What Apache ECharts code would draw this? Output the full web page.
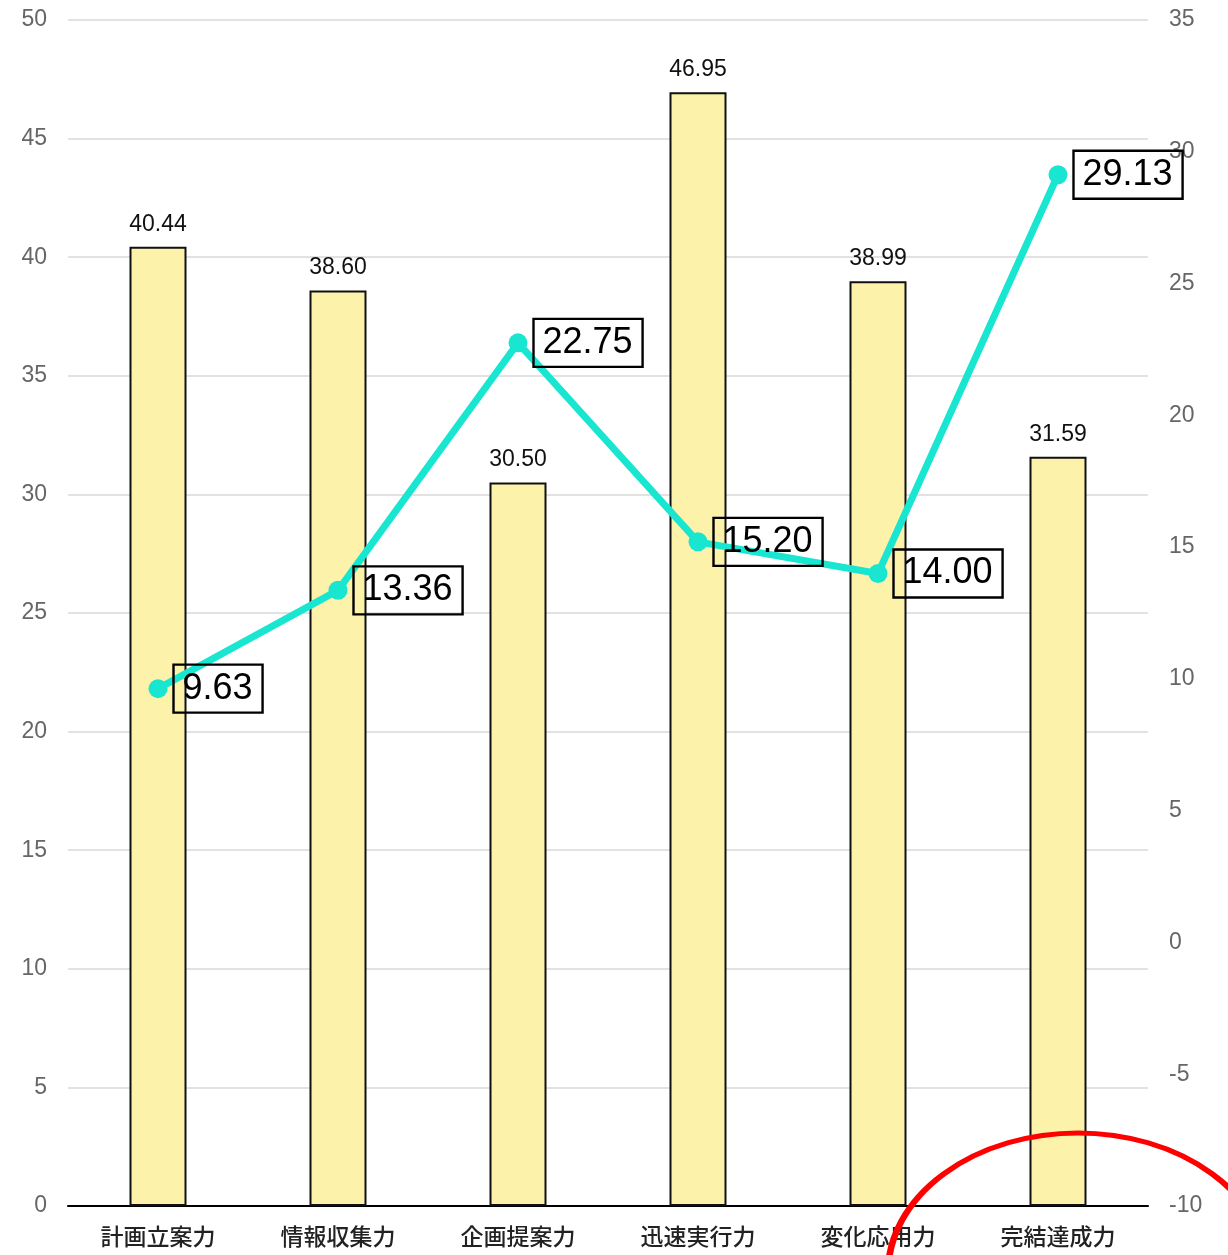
<!DOCTYPE html>
<html>
<head>
<meta charset="utf-8">
<script src="https://cdn.jsdelivr.net/npm/echarts@6/dist/echarts.min.js"></script>
<style>html,body{margin:0;padding:0;background:#fff}#c{width:1228px;height:1255px}</style>
</head>
<body>
<div id="c"></div>
<script>
var categories = ['計画立案力','情報収集力','企画提案力','迅速実行力','変化応用力','完結達成力'];
var barValues = [40.44, 38.60, 30.50, 46.95, 38.99, 31.59];
var lineValues = [9.63, 13.36, 22.75, 15.20, 14.00, 29.13];
var leftAxisRange = [0, 50, 5];
var rightAxisRange = [-10, 35, 5];

var chart = echarts.init(document.getElementById('c'));
chart.setOption({
  animation: false,
  textStyle: { fontFamily: 'Liberation Sans, Arial, sans-serif' },
  grid: { left: 68, right: 80, top: 20, bottom: 49, containLabel: false },
  xAxis: {
    type: 'category',
    data: categories,
    axisLine: { lineStyle: { color: '#000', width: 2 } },
    axisTick: { show: false },
    axisLabel: { color: '#222', fontSize: 23, margin: 19, fontWeight: 500, fontFamily: 'Noto Sans CJK JP, sans-serif' }
  },
  yAxis: [
    {
      type: 'value', min: leftAxisRange[0], max: leftAxisRange[1], interval: leftAxisRange[2],
      axisLine: { show: false }, axisTick: { show: false },
      axisLabel: { color: '#666', fontSize: 23, margin: 21 },
      splitLine: { lineStyle: { color: '#d9d9d9', width: 1.5 } }
    },
    {
      type: 'value', min: rightAxisRange[0], max: rightAxisRange[1], interval: rightAxisRange[2],
      axisLine: { show: false }, axisTick: { show: false },
      axisLabel: { color: '#666', fontSize: 23, margin: 21 },
      splitLine: { show: false }
    }
  ],
  series: [
    {
      type: 'bar',
      data: barValues,
      barWidth: 57,
      itemStyle: { color: '#FDF2AA', borderColor: '#111', borderWidth: 2 },
      label: {
        show: true, position: 'top', distance: 11, color: '#111', fontSize: 23,
        formatter: function (p) { return p.value.toFixed(2); }
      }
    },
    {
      type: 'line',
      yAxisIndex: 1,
      data: lineValues,
      symbol: 'circle', symbolSize: 19,
      lineStyle: { color: '#19E6D0', width: 7 },
      itemStyle: { color: '#19E6D0' },
      label: {
        show: true, position: 'right', distance: 6, color: '#000', fontSize: 36,
        lineHeight: 40, padding: [4, 10, 4, 9],
        borderColor: '#000', borderWidth: 1.2, backgroundColor: 'transparent',
        formatter: function (p) { return p.value.toFixed(2); }
      },
      z: 3
    }
  ],
  graphic: [
    {
      type: 'circle',
      shape: { cx: 0, cy: 0, r: 100 },
      x: 1078, y: 1273, scaleX: 1.9, scaleY: 1.4,
      style: { fill: 'none', stroke: '#FF0000', lineWidth: 3.5 },
      z: 100, silent: true
    }
  ]
});
</script>
</body>
</html>
